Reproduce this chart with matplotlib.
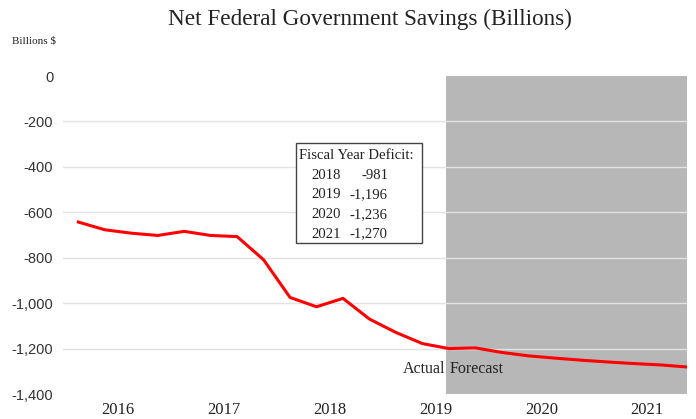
import matplotlib
matplotlib.use("Agg")
import matplotlib.pyplot as plt

# Data (quarterly, 2016Q1 .. 2021Q4), billions $
quarters = list(range(24))
savings = [-643, -677, -692, -702, -684, -702, -707, -809, -975, -1016,
           -979, -1070, -1129, -1178, -1200, -1197, -1217, -1232, -1242,
           -1251, -1259, -1266, -1272, -1281]
year_labels = ["2016", "2017", "2018", "2019", "2020", "2021"]
year_pos = [1.5, 5.5, 9.5, 13.5, 17.5, 21.5]
y_ticks = [0, -200, -400, -600, -800, -1000, -1200, -1400]
forecast_start = 14
forecast_end = 23
table_years = ["2018", "2019", "2020", "2021"]
table_deficits = ["-981", "-1,196", "-1,236", "-1,270"]

W, H = 696, 419
fig = plt.figure(figsize=(W / 100, H / 100), dpi=100)
ax = fig.add_axes([63 / W, (H - 394) / H, (687 - 63) / W, (394 - 76) / H])

serif = ["Liberation Serif", "DejaVu Serif"]
sans = ["Liberation Sans", "DejaVu Sans"]

ax.axvspan(forecast_start - 0.1, forecast_end, ymin=0, ymax=1, color="#b7b7b7", zorder=0, lw=0)
for yv in y_ticks[1:-1]:
    ax.axhline(yv, color="#e3e3e3", lw=1.0, zorder=1)
ax.plot(quarters, savings, color="#ff0000", lw=2.2, zorder=3, solid_joinstyle="round")

ax.set_xlim(-0.58, 23)
ax.set_ylim(-1400, 0)
for s in ax.spines.values():
    s.set_visible(False)
ax.set_yticks(y_ticks)
ax.set_yticklabels([f"{v:,}" for v in y_ticks], fontfamily=sans, fontsize=10.5, color="#333333")
ax.set_xticks(year_pos)
ax.set_xticklabels(year_labels, fontfamily=serif, fontsize=12, color="#222222")
ax.tick_params(axis="both", length=0)
ax.tick_params(axis="y", pad=7)
ax.tick_params(axis="x", pad=5.5)

fig.text(370 / W, 1 - 19 / H, "Net Federal Government Savings (Billions)", ha="center", va="center",
         fontfamily=serif, fontsize=16.7, color="#222222")
fig.text(12 / W, 1 - 41 / H, "Billions $", ha="left", va="center", fontfamily=serif, fontsize=8,
         color="#222222")

ax.text(forecast_start - 0.14, -1290, "Actual", ha="right", va="center", fontfamily=serif, fontsize=11.5,
        color="#222222", zorder=4)
ax.text(forecast_start + 0.02, -1290, "Forecast", ha="left", va="center", fontfamily=serif, fontsize=11.5,
        color="#222222", zorder=4)

# Fiscal year deficit box
bx0, by0, bx1, by1 = 296, 143, 422, 243
box = plt.Rectangle((bx0 / W, 1 - by1 / H), (bx1 - bx0) / W, (by1 - by0) / H, transform=fig.transFigure,
                    facecolor="white", edgecolor="#444444", lw=1.0, zorder=5)
fig.add_artist(box)
fig.text((bx0 + 3) / W, 1 - 155 / H, "Fiscal Year Deficit:", ha="left", va="center", fontfamily=serif,
         fontsize=10.6, color="#222222", zorder=6)
for i, (yr, dv) in enumerate(zip(table_years, table_deficits)):
    yy = 175 + 19.7 * i
    fig.text(326 / W, 1 - yy / H, yr, ha="center", va="center", fontfamily=serif, fontsize=10.6,
             color="#222222", zorder=6)
    fig.text(388 / W, 1 - yy / H, dv, ha="right", va="center", fontfamily=serif, fontsize=10.6,
             color="#222222", zorder=6)

fig.savefig("out.png", dpi=100)
